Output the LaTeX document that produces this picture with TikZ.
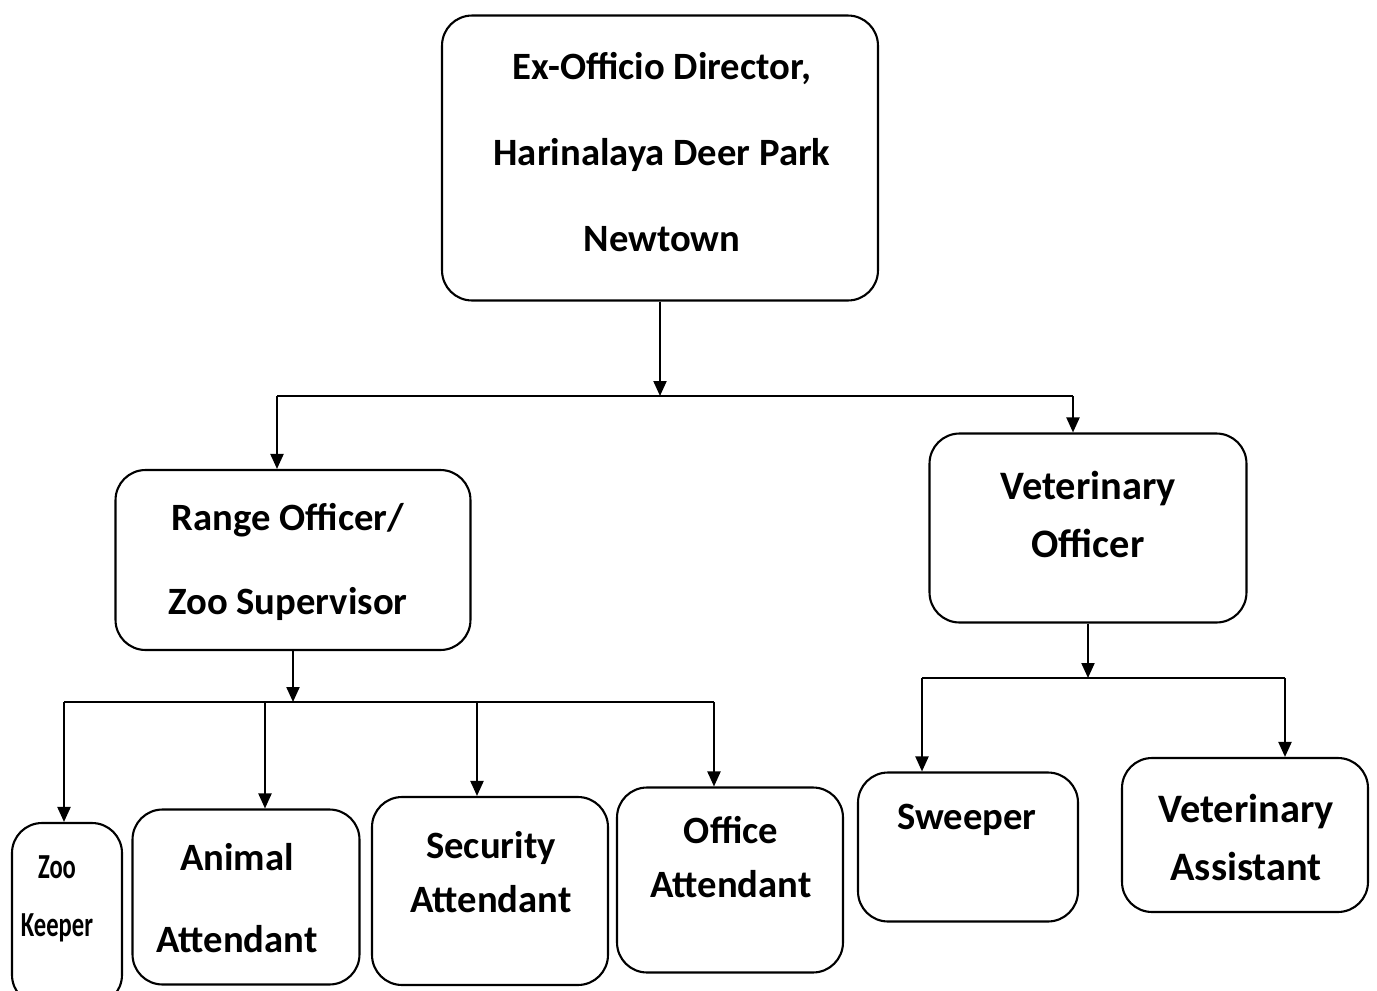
\documentclass[tikz,border=0pt]{standalone}
\usepackage{fontspec}
\setmainfont{Carlito}
\usetikzlibrary{arrows.meta}

\tikzset{
    post/.style={rectangle, rounded corners=0.6cm, draw, line width=1.2pt},
    lbl/.style={align=center, inner sep=0pt},
    link/.style={line width=1.2pt, -{Triangle[length=0.3cm,width=0.26cm]}},
    bus/.style={line width=1.2pt}
}

\begin{document}
\begin{tikzpicture}[x=0.02cm, y=-0.02cm]
    \useasboundingbox (0,0) rectangle (1377,991);

    % The boxes
    \node[post, minimum width=8.72cm, minimum height=5.7cm] (dir) at (660,158) {};
    \node[post, minimum width=7.1cm, minimum height=3.6cm] (range) at (293,560) {};
    \node[post, minimum width=6.34cm, minimum height=3.78cm] (vet) at (1088,528) {};
    \node[post, minimum width=2.2cm, minimum height=3.64cm] (zoo) at (67,914) {};
    \node[post, minimum width=4.54cm, minimum height=3.5cm] (animal) at (246,897) {};
    \node[post, minimum width=4.72cm, minimum height=3.76cm] (security) at (490,891) {};
    \node[post, minimum width=4.52cm, minimum height=3.7cm] (office) at (730,880) {};
    \node[post, minimum width=4.4cm, minimum height=2.98cm] (sweeper) at (968,847) {};
    \node[post, minimum width=4.92cm, minimum height=3.08cm] (vasst) at (1245,835) {};

    % The texts
    \node[lbl, font=\bfseries\fontsize{22}{49}\selectfont] (tdir) at (662,152)
        {Ex-Officio Director,\\Harinalaya Deer Park\\Newtown};
    \node[lbl, font=\bfseries\fontsize{22}{48}\selectfont] (trange) at (288,562)
        {Range Officer/\\Zoo Supervisor};
    \node[lbl, font=\bfseries\fontsize{23}{33}\selectfont] (tvet) at (1088,514)
        {Veterinary\\Officer};
    \node[lbl, font=\bfseries\fontsize{20}{33}\selectfont] (tzoo) at (57,899)
        {\scalebox{0.7}[1]{Zoo}\\\scalebox{0.7}[1]{Keeper}};
    \node[lbl, font=\bfseries\fontsize{22}{47}\selectfont] (tanimal) at (237,898)
        {Animal\\Attendant};
    \node[lbl, font=\bfseries\fontsize{22}{31}\selectfont] (tsecurity) at (491,872)
        {Security\\Attendant};
    \node[lbl, font=\bfseries\fontsize{22}{31}\selectfont] (toffice) at (731,857)
        {Office\\Attendant};
    \node[lbl, font=\bfseries\fontsize{22}{31}\selectfont] (tsweeper) at (967,820)
        {Sweeper};
    \node[lbl, font=\bfseries\fontsize{23}{33}\selectfont] (tvasst) at (1246,837)
        {Veterinary\\Assistant};

    % The first level
    \coordinate (b1l) at (277,396);
    \coordinate (b1r) at (1073,396);
    \draw[bus] (b1l) -- (b1r);
    \draw[link] (dir.south) -- (dir.south |- b1l);
    \draw[link] (b1l) -- (b1l |- range.north);
    \draw[link] (b1r) -- (b1r |- vet.north);

    % Under the range officer
    \coordinate (b2l) at (64,702);
    \coordinate (b2r) at (714,702);
    \draw[bus] (b2l) -- (b2r);
    \draw[link] (range.south) -- (range.south |- b2l);
    \draw[link] (b2l) -- (b2l |- zoo.north);
    \draw[link] (265,702) -- (animal.north -| 265,0);
    \draw[link] (477,702) -- (security.north -| 477,0);
    \draw[link] (b2r) -- (b2r |- office.north);

    % Under the veterinary officer
    \coordinate (b3l) at (922,678);
    \coordinate (b3r) at (1285,678);
    \draw[bus] (b3l) -- (b3r);
    \draw[link] (vet.south) -- (vet.south |- b3l);
    \draw[link] (b3l) -- (b3l |- sweeper.north);
    \draw[link] (b3r) -- (b3r |- vasst.north);
\end{tikzpicture}
\end{document}
